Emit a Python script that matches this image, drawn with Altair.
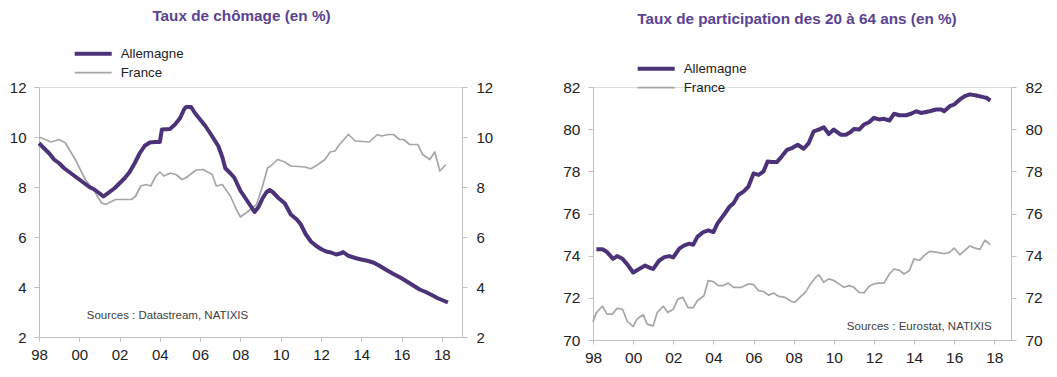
import altair as alt
import pandas as pd

# ---------------- data: Taux de chômage (en %) ----------------
cho_de_year = [1998.0, 1998.25, 1998.5, 1998.75, 1999.0, 1999.25, 1999.5, 1999.75, 2000.0, 2000.25,
               2000.5, 2000.75, 2001.0, 2001.2, 2001.5, 2001.75, 2002.0, 2002.25, 2002.5, 2002.75,
               2003.0, 2003.25, 2003.5, 2003.75, 2004.0, 2004.1, 2004.5, 2004.75, 2005.0, 2005.2,
               2005.3, 2005.55, 2005.75, 2006.0, 2006.25, 2006.5, 2006.9, 2007.1, 2007.25, 2007.5,
               2007.7, 2008.0, 2008.25, 2008.5, 2008.7, 2008.9, 2009.1, 2009.3, 2009.45, 2009.6,
               2009.9, 2010.2, 2010.5, 2010.8, 2011.0, 2011.25, 2011.5, 2011.75, 2012.0, 2012.25,
               2012.5, 2012.75, 2013.0, 2013.1, 2013.35, 2013.75, 2014.0, 2014.3, 2014.6, 2014.9,
               2015.25, 2015.6, 2016.0, 2016.3, 2016.6, 2016.9, 2017.2, 2017.5, 2017.8, 2018.1, 2018.3]
cho_de_val = [9.75, 9.55, 9.35, 9.1, 8.95, 8.75, 8.6, 8.45, 8.3, 8.15,
              8.0, 7.9, 7.75, 7.62, 7.8, 7.95, 8.15, 8.35, 8.6, 8.95,
              9.35, 9.65, 9.78, 9.8, 9.8, 10.3, 10.32, 10.5, 10.75, 11.1,
              11.2, 11.2, 10.95, 10.7, 10.45, 10.15, 9.64, 9.2, 8.75, 8.55,
              8.37, 7.85, 7.55, 7.25, 7.0, 7.2, 7.55, 7.8, 7.88, 7.8,
              7.55, 7.35, 6.9, 6.7, 6.5, 6.1, 5.82, 5.65, 5.52, 5.42,
              5.38, 5.3, 5.35, 5.4, 5.25, 5.15, 5.1, 5.05, 4.98, 4.85,
              4.68, 4.52, 4.35, 4.2, 4.05, 3.9, 3.8, 3.68, 3.55, 3.45, 3.38]

cho_fr_year = [1998.0, 1998.6, 1999.0, 1999.3, 1999.8, 2000.3, 2000.8, 2001.1, 2001.3, 2001.8,
               2002.6, 2002.8, 2003.05, 2003.3, 2003.55, 2003.8, 2004.0, 2004.2, 2004.5, 2004.8,
               2005.1, 2005.3, 2005.8, 2006.15, 2006.6, 2006.8, 2007.1, 2007.5, 2007.8, 2008.0,
               2008.4, 2008.8, 2009.1, 2009.35, 2009.5, 2009.85, 2010.2, 2010.5, 2011.2, 2011.5,
               2011.85, 2012.2, 2012.45, 2012.7, 2012.86, 2013.36, 2013.7, 2014.4, 2014.8, 2015.0,
               2015.37, 2015.6, 2015.9, 2016.1, 2016.4, 2016.8, 2017.05, 2017.4, 2017.65, 2017.9, 2018.2]
cho_fr_val = [10.0, 9.8, 9.9, 9.77, 9.1, 8.3, 7.77, 7.37, 7.3, 7.5,
              7.5, 7.64, 8.04, 8.1, 8.04, 8.44, 8.6, 8.44, 8.55, 8.5,
              8.3, 8.37, 8.68, 8.7, 8.5, 8.04, 8.1, 7.64, 7.1, 6.8,
              7.04, 7.3, 8.04, 8.77, 8.84, 9.1, 9.0, 8.84, 8.8, 8.73,
              8.9, 9.1, 9.4, 9.44, 9.64, 10.1, 9.84, 9.8, 10.1, 10.04,
              10.1, 10.1, 9.9, 9.9, 9.7, 9.7, 9.3, 9.1, 9.4, 8.64, 8.9]

# ---------------- data: Taux de participation des 20 à 64 ans (en %) ----------------
par_de_year = [1998.17, 1998.47, 1998.7, 1999.0, 1999.2, 1999.47, 1999.7, 2000.0, 2000.3, 2000.6,
               2000.9, 2001.0, 2001.3, 2001.56, 2001.8, 2002.0, 2002.3, 2002.55, 2002.8, 2003.0,
               2003.2, 2003.5, 2003.75, 2004.0, 2004.2, 2004.57, 2004.8, 2005.0, 2005.24, 2005.5,
               2005.74, 2006.0, 2006.25, 2006.5, 2006.7, 2006.9, 2007.16, 2007.4, 2007.67, 2007.9,
               2008.2, 2008.5, 2008.75, 2009.0, 2009.25, 2009.5, 2009.75, 2010.0, 2010.34, 2010.6,
               2010.84, 2011.0, 2011.26, 2011.5, 2011.76, 2012.0, 2012.26, 2012.5, 2012.77, 2013.0,
               2013.27, 2013.6, 2013.85, 2014.1, 2014.35, 2014.77, 2015.1, 2015.36, 2015.5, 2015.78,
               2016.0, 2016.28, 2016.53, 2016.78, 2017.1, 2017.45, 2017.6, 2017.8]
par_de_val = [74.3, 74.3, 74.17, 73.85, 73.98, 73.85, 73.6, 73.2, 73.37, 73.53,
              73.4, 73.37, 73.77, 73.93, 73.98, 73.92, 74.33, 74.49, 74.57, 74.52,
              74.89, 75.12, 75.2, 75.12, 75.52, 76.0, 76.32, 76.48, 76.88, 77.04,
              77.27, 77.9, 77.83, 78.0, 78.47, 78.44, 78.44, 78.7, 79.02, 79.1,
              79.26, 79.07, 79.34, 79.9, 79.98, 80.09, 79.77, 79.98, 79.74, 79.74,
              79.87, 80.01, 79.98, 80.22, 80.33, 80.54, 80.46, 80.49, 80.41, 80.73,
              80.66, 80.66, 80.73, 80.85, 80.77, 80.85, 80.93, 80.93, 80.85, 81.09,
              81.17, 81.41, 81.57, 81.65, 81.6, 81.52, 81.49, 81.36]

par_fr_year = [1998.0, 1998.17, 1998.47, 1998.7, 1998.97, 1999.2, 1999.47, 1999.7, 2000.0, 2000.2,
               2000.5, 2000.7, 2001.0, 2001.2, 2001.5, 2001.73, 2002.0, 2002.23, 2002.48, 2002.73,
               2003.0, 2003.2, 2003.53, 2003.74, 2004.0, 2004.24, 2004.5, 2004.74, 2005.0, 2005.4,
               2005.74, 2006.0, 2006.25, 2006.5, 2006.75, 2007.0, 2007.25, 2007.58, 2007.92, 2008.08,
               2008.4, 2008.58, 2008.84, 2009.1, 2009.25, 2009.5, 2009.75, 2010.0, 2010.26, 2010.5,
               2010.76, 2011.0, 2011.26, 2011.5, 2011.76, 2012.0, 2012.26, 2012.5, 2012.77, 2013.0,
               2013.27, 2013.5, 2013.77, 2014.0, 2014.27, 2014.5, 2014.77, 2015.1, 2015.5, 2015.78,
               2016.0, 2016.28, 2016.53, 2016.78, 2017.03, 2017.28, 2017.53, 2017.8]
par_fr_val = [70.86, 71.3, 71.6, 71.23, 71.23, 71.5, 71.46, 70.9, 70.64, 71.0,
              71.2, 70.75, 70.67, 71.3, 71.6, 71.3, 71.46, 71.94, 72.02, 71.54,
              71.54, 71.86, 72.1, 72.82, 72.77, 72.58, 72.58, 72.7, 72.5, 72.5,
              72.66, 72.63, 72.34, 72.3, 72.13, 72.23, 72.07, 72.02, 71.81, 71.81,
              72.1, 72.26, 72.66, 72.98, 73.09, 72.74, 72.9, 72.82, 72.66, 72.5,
              72.58, 72.5, 72.26, 72.23, 72.55, 72.66, 72.7, 72.7, 73.13, 73.37,
              73.3, 73.13, 73.3, 73.85, 73.77, 74.0, 74.2, 74.17, 74.09, 74.17,
              74.36, 74.04, 74.25, 74.46, 74.36, 74.3, 74.73, 74.52]

series = ["Allemagne", "France"]
tick_years = [1998, 2000, 2002, 2004, 2006, 2008, 2010, 2012, 2014, 2016, 2018]
tick_labels = ["98", "00", "02", "04", "06", "08", "10", "12", "14", "16", "18"]
cho_ticks = [2, 4, 6, 8, 10, 12]
par_ticks = [70, 72, 74, 76, 78, 80, 82]

titles = ["Taux de chômage (en %)", "Taux de participation des 20 à 64 ans (en %)"]
sources = ["Sources : Datastream, NATIXIS", "Sources : Eurostat, NATIXIS"]

# ---------------- styling ----------------
FONT = "Liberation Sans"
PURPLE = "#4b3279"
GRAY = "#a6a6a6"
TITLE_COLOR = "#5b4391"
AXIS_COLOR = "#bfbfbf"
LABEL_COLOR = "#222222"

label_expr = "{" + ",".join(f"'{y}':'{l}'" for y, l in zip(tick_years, tick_labels)) + "}[toString(datum.value)]"


def long_df(de_year, de_val, fr_year, fr_val):
    return pd.DataFrame({
        "annee": list(de_year) + list(fr_year),
        "valeur": list(de_val) + list(fr_val),
        "pays": [series[0]] * len(de_year) + [series[1]] * len(fr_year),
    })


def panel(df, xdom, ydom, yticks, title, title_dx, title_offset, leg_x, leg_y,
          source, src_x, src_y, src_align, w, h, fs):
    x = alt.X("annee:Q", scale=alt.Scale(domain=xdom, nice=False, zero=False),
              axis=alt.Axis(values=tick_years, labelExpr=label_expr, title=None, grid=False,
                            tickSize=4, labelPadding=6, labelFontSize=fs, labelFont=FONT,
                            labelColor=LABEL_COLOR, domainColor=AXIS_COLOR, tickColor=AXIS_COLOR,
                            labelFlush=False))
    yscale = alt.Scale(domain=ydom, nice=False, zero=False)
    color = alt.Color("pays:N", scale=alt.Scale(domain=series, range=[PURPLE, GRAY]),
                      legend=alt.Legend(orient="none", legendX=leg_x, legendY=leg_y, title=None,
                                        symbolType="stroke", symbolSize=1369, labelFont=FONT,
                                        labelFontSize=13.3, labelColor=LABEL_COLOR, labelOffset=7,
                                        padding=0, rowPadding=0, clipHeight=19))
    sw = alt.StrokeWidth("pays:N", scale=alt.Scale(domain=series, range=[4, 1.7]))
    yleft = alt.Y("valeur:Q", scale=yscale,
                  axis=alt.Axis(values=yticks, title=None, grid=False, tickSize=5, labelPadding=8,
                                labelFontSize=fs, labelFont=FONT, labelColor=LABEL_COLOR,
                                domainColor=AXIS_COLOR, tickColor=AXIS_COLOR))
    yright = alt.Y("valeur:Q", scale=yscale,
                   axis=alt.Axis(values=yticks, title=None, grid=False, orient="right", tickSize=5,
                                 labelPadding=9, labelFontSize=fs, labelFont=FONT,
                                 labelColor=LABEL_COLOR, domainColor=AXIS_COLOR,
                                 tickColor=AXIS_COLOR))
    base = alt.Chart(df)
    fr = base.transform_filter(alt.datum.pays == series[1]).mark_line(strokeJoin="round").encode(
        x=x, y=yleft, color=color, strokeWidth=sw)
    de = base.transform_filter(alt.datum.pays == series[0]).mark_line(strokeJoin="round").encode(
        x=x, y=yleft, color=color, strokeWidth=sw)
    src = alt.Chart(pd.DataFrame({"t": [source]})).mark_text(
        font=FONT, fontSize=11.5, color="#404040", align=src_align, baseline="middle").encode(
        x=alt.datum(src_x), y=alt.datum(src_y), text="t:N")
    inner = alt.layer(fr, de, src)
    right = base.mark_line(opacity=0).encode(x=x, y=yright, detail="pays:N")
    return alt.layer(inner, right).resolve_scale(y="independent").properties(
        width=w, height=h,
        title=alt.TitleParams(title, font=FONT, fontSize=15.3, fontWeight="bold", color=TITLE_COLOR,
                              anchor="middle", frame="group", dx=title_dx, offset=title_offset))


left = panel(long_df(cho_de_year, cho_de_val, cho_fr_year, cho_fr_val), [1998, 2019], [2, 12],
             cho_ticks, titles[0], -9, 20, 33.7, -42.8, sources[0], 2000.37, 2.85, "left",
             423, 250, 15)
right = panel(long_df(par_de_year, par_de_val, par_fr_year, par_fr_val), [1998, 2018.83], [70, 82],
              par_ticks, titles[1], -5, 31.7, 42.7, -27.8, sources[1], 2017.87, 70.63, "right",
              418, 253, 15.5)

chart = alt.hconcat(left, right, spacing=68).resolve_scale(
    color="independent", strokeWidth="independent"
).resolve_legend(color="independent", strokeWidth="independent").properties(
    padding={"left": 0, "top": 0, "right": 0, "bottom": 0}
).configure_view(stroke=None).configure(background="white")

chart.save("out.html", embed_options={"renderer": "svg", "actions": False})
